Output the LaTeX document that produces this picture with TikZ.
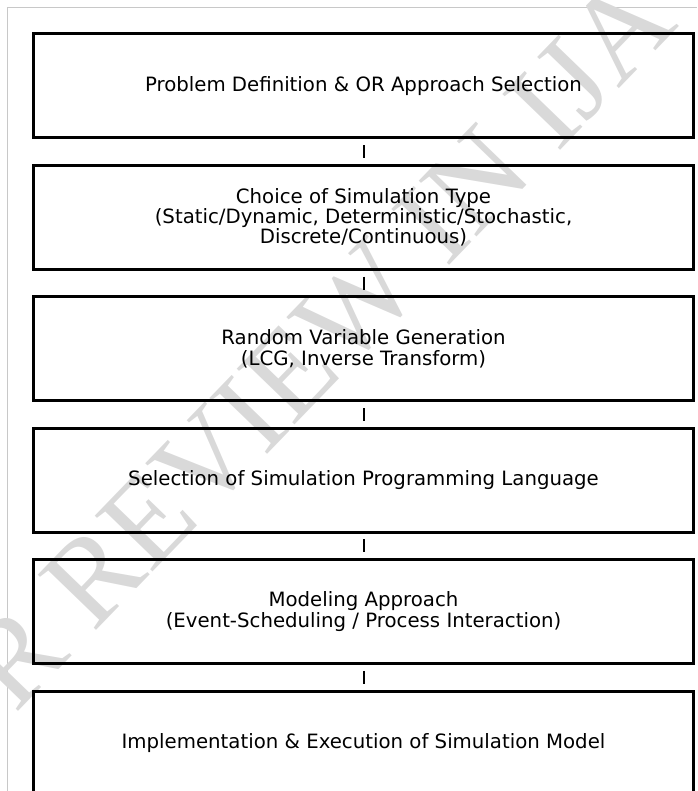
\documentclass[tikz,border=0pt]{standalone}
\usepackage{fontspec}
\setmainfont{DejaVu Sans}
\newfontfamily\stampfont{Liberation Serif}
\usepackage{tikz}

\tikzset{
	stagebox/.style={draw=black, line width=2.25pt, minimum width=495pt, minimum height=78pt, inner sep=0pt, align=center, font=\fontsize{14.8}{15.2}\selectfont},
	stagelink/.style={draw=black, line width=1.5pt, shorten >=4.3pt, shorten <=4.3pt},
	stamptext/.style={inner sep=0pt, text={rgb,255:red,217;green,217;blue,217}, font=\stampfont\fontsize{92}{92}\selectfont},
	pageframe/.style={draw={rgb,255:red,200;green,200;blue,200}, line width=0.75pt}
}

\begin{document}
\begin{tikzpicture}[x=0.75pt,y=0.75pt,yscale=-1,xscale=1]
	\clip (0,0) rectangle (697,791);
	
	%Shape: Page frame
	\draw [pageframe] (697,7.5) -- (7.5,7.5) -- (7.5,791) ;
	
	% Text Node: watermark
	\node [stamptext, rotate=46] (stamp) at (265,399) {FOR REVIEW IN IJA};
	
	% Text Node
	\node [stagebox] (problem) at (363.5,86) {Problem Definition \& OR Approach Selection};
	% Text Node
	\node [stagebox] (simtype) at (363.5,217.4) {Choice of Simulation Type\\(Static/Dynamic, Deterministic/Stochastic,\\Discrete/Continuous)};
	% Text Node
	\node [stagebox] (randvar) at (363.5,348.8) {Random Variable Generation\\(LCG, Inverse Transform)};
	% Text Node
	\node [stagebox] (language) at (363.5,480.2) {Selection of Simulation Programming Language};
	% Text Node
	\node [stagebox] (modeling) at (363.5,611.6) {Modeling Approach\\(Event-Scheduling / Process Interaction)};
	% Text Node
	\node [stagebox] (implement) at (363.5,743) {Implementation \& Execution of Simulation Model};
	
	%Straight Lines
	\draw [stagelink] (problem) -- (simtype) ;
	\draw [stagelink] (simtype) -- (randvar) ;
	\draw [stagelink] (randvar) -- (language) ;
	\draw [stagelink] (language) -- (modeling) ;
	\draw [stagelink] (modeling) -- (implement) ;
\end{tikzpicture}
\end{document}
